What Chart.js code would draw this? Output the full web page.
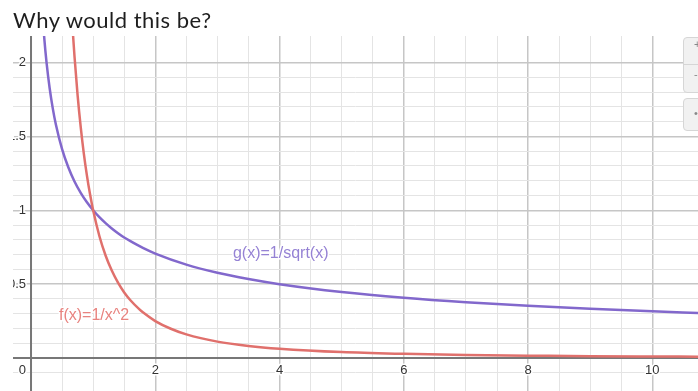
<!DOCTYPE html>
<html>
<head>
<meta charset="utf-8">
<script src="https://cdn.jsdelivr.net/npm/chart.js@4.4.1/dist/chart.umd.min.js"></script>
<style>
  html, body { margin: 0; padding: 0; background: #fff; overflow: hidden; }
  #wrap { position: relative; width: 698px; height: 391px; overflow: hidden; }
  #title { position: absolute; left: 13px; top: 6px; font: 22px Lato, "Open Sans", sans-serif; letter-spacing: 0.5px; color: #1e1e1e; white-space: nowrap; }
  .btn { position: absolute; left: 683px; width: 24px; background: #f1f1f1; border: 1px solid #d6d6d6; border-radius: 4px; box-sizing: border-box; }
  .glyph { position: absolute; left: 694px; font: 11px "Liberation Sans", Arial, sans-serif; color: #888; }
  canvas { position: absolute; left: 0; top: 0; }
</style>
</head>
<body>
<div id="wrap">
  <canvas id="c" width="698" height="391"></canvas>
  <div id="title">Why would this be?</div>
  <div class="btn" style="top:37px;height:56px;"></div>
  <div style="position:absolute;left:684px;top:64px;width:14px;height:1px;background:#d6d6d6;"></div>
  <div class="btn" style="top:98px;height:33px;"></div>
  <div class="glyph" style="top:38px;">+</div>
  <div class="glyph" style="top:68px;">-</div>
  <div class="glyph" style="top:107px;">•</div>
</div>
<script>
// ---- data ----
const gX = [0.21, 0.23, 0.25, 0.3, 0.35, 0.4, 0.5, 0.6, 0.7, 0.8, 0.9, 1, 1.1, 1.2, 1.3, 1.4, 1.5, 1.6, 1.8, 2, 2.5, 3, 3.5, 4, 5, 6, 7, 8, 9, 10, 10.74];
const gY = [2.182, 2.085, 2.0, 1.826, 1.690, 1.581, 1.414, 1.291, 1.195, 1.118, 1.054, 1.0, 0.953, 0.913, 0.877, 0.845, 0.816, 0.791, 0.745, 0.707, 0.632, 0.577, 0.535, 0.5, 0.447, 0.408, 0.378, 0.354, 0.333, 0.316, 0.305];
const fX = [0.675, 0.7, 0.75, 0.8, 0.85, 0.9, 0.95, 1, 1.1, 1.2, 1.3, 1.4, 1.5, 1.6, 1.75, 1.8, 2, 2.25, 2.5, 3, 3.5, 4, 5, 6, 7, 8, 9, 10, 10.74];
const fY = [2.195, 2.041, 1.778, 1.563, 1.384, 1.235, 1.108, 1.0, 0.826, 0.694, 0.592, 0.510, 0.444, 0.391, 0.327, 0.309, 0.25, 0.198, 0.16, 0.111, 0.082, 0.063, 0.04, 0.028, 0.020, 0.016, 0.012, 0.010, 0.009];
const xTickLabels = [2, 4, 6, 8, 10];
const yTickLabels = [0.5, 1, 1.5, 2];
const originLabel = '0';
const gName = 'g(x)=1/sqrt(x)';
const fName = 'f(x)=1/x^2';

// ---- styles ----
const RED = '#e0706c';
const PURPLE = '#8268cc';
const RED_TEXT = '#e8837f';
const PURPLE_TEXT = '#9582d4';
const AXIS = '#777777';
const MAJOR = '#c6c6c6';
const MINOR = '#e4e4e4';

function isMult(v, s) { const r = v / s; return Math.abs(r - Math.round(r)) < 1e-6; }
function gridColor(v, minor, major) {
  if (Math.abs(v) < 1e-9) return 'rgba(0,0,0,0)';
  if (isMult(v, major)) return MAJOR;
  if (isMult(v, minor)) return MINOR;
  return 'rgba(0,0,0,0)';
}
function gridWidth(v, minor, major) {
  if (isMult(v, major)) return 1.5;
  return 1;
}

const pts = (xs, ys) => xs.map((x, i) => ({ x: x, y: ys[i] }));

const desmos = {
  id: 'desmos',
  beforeDatasetsDraw(chart) {
    const { ctx, chartArea: a, scales: { x, y } } = chart;
    const x0 = x.getPixelForValue(0), y0 = y.getPixelForValue(0);
    ctx.save();
    ctx.beginPath(); ctx.rect(a.left, a.top, a.right - a.left, a.bottom - a.top); ctx.clip();
    ctx.strokeStyle = AXIS; ctx.lineWidth = 2;
    ctx.beginPath();
    ctx.moveTo(x0, a.top); ctx.lineTo(x0, a.bottom);
    ctx.moveTo(a.left, y0); ctx.lineTo(a.right, y0);
    ctx.stroke();
    ctx.font = '13px "Liberation Sans", Arial, sans-serif';
    ctx.lineJoin = 'round'; ctx.lineWidth = 3; ctx.strokeStyle = '#fff'; ctx.fillStyle = '#333';
    ctx.textAlign = 'center'; ctx.textBaseline = 'top';
    xTickLabels.forEach(v => {
      const px = x.getPixelForValue(v);
      ctx.strokeText(String(v), px, y0 + 6); ctx.fillText(String(v), px, y0 + 6);
    });
    ctx.textAlign = 'right';
    ctx.strokeText(originLabel, x0 - 5, y0 + 6); ctx.fillText(originLabel, x0 - 5, y0 + 6);
    ctx.textBaseline = 'middle';
    yTickLabels.forEach(v => {
      const py = y.getPixelForValue(v);
      ctx.strokeText(String(v), x0 - 5, py); ctx.fillText(String(v), x0 - 5, py);
    });
    ctx.restore();
  },
  afterDatasetsDraw(chart) {
    const { ctx, scales: { x, y } } = chart;
    ctx.save();
    ctx.font = '16px "Liberation Sans", Arial, sans-serif';
    ctx.textAlign = 'left'; ctx.textBaseline = 'middle';
    ctx.lineJoin = 'round'; ctx.lineWidth = 3; ctx.strokeStyle = '#fff';
    ctx.fillStyle = PURPLE_TEXT;
    ctx.strokeText(gName, x.getPixelForValue(3.25), y.getPixelForValue(0.704));
    ctx.fillText(gName, x.getPixelForValue(3.25), y.getPixelForValue(0.704));
    ctx.fillStyle = RED_TEXT;
    ctx.strokeText(fName, x.getPixelForValue(0.45), y.getPixelForValue(0.29));
    ctx.fillText(fName, x.getPixelForValue(0.45), y.getPixelForValue(0.29));
    ctx.restore();
  }
};

new Chart(document.getElementById('c'), {
  type: 'line',
  data: {
    datasets: [
      { label: fName, data: pts(fX, fY), borderColor: RED, borderWidth: 2.5, pointRadius: 0, cubicInterpolationMode: 'monotone', fill: false },
      { label: gName, data: pts(gX, gY), borderColor: PURPLE, borderWidth: 2.5, pointRadius: 0, cubicInterpolationMode: 'monotone', fill: false }
    ]
  },
  options: {
    responsive: false,
    devicePixelRatio: 1,
    animation: false,
    layout: { padding: { left: 13, top: 36, right: 0, bottom: 0 } },
    plugins: { legend: { display: false }, tooltip: { enabled: false }, title: { display: false } },
    scales: {
      x: {
        type: 'linear', min: -0.29, max: 10.735,
        ticks: { display: false, stepSize: 0.5 },
        grid: { drawTicks: false, color: c => gridColor(c.tick.value, 0.5, 2), lineWidth: c => gridWidth(c.tick.value, 0.5, 2) },
        border: { display: false },
        afterFit: s => { s.height = 0; }
      },
      y: {
        type: 'linear', min: -0.2234, max: 2.18,
        ticks: { display: false, stepSize: 0.1 },
        grid: { drawTicks: false, color: c => gridColor(c.tick.value, 0.1, 0.5), lineWidth: c => gridWidth(c.tick.value, 0.1, 0.5) },
        border: { display: false },
        afterFit: s => { s.width = 0; }
      }
    }
  },
  plugins: [desmos]
});
</script>
</body>
</html>
